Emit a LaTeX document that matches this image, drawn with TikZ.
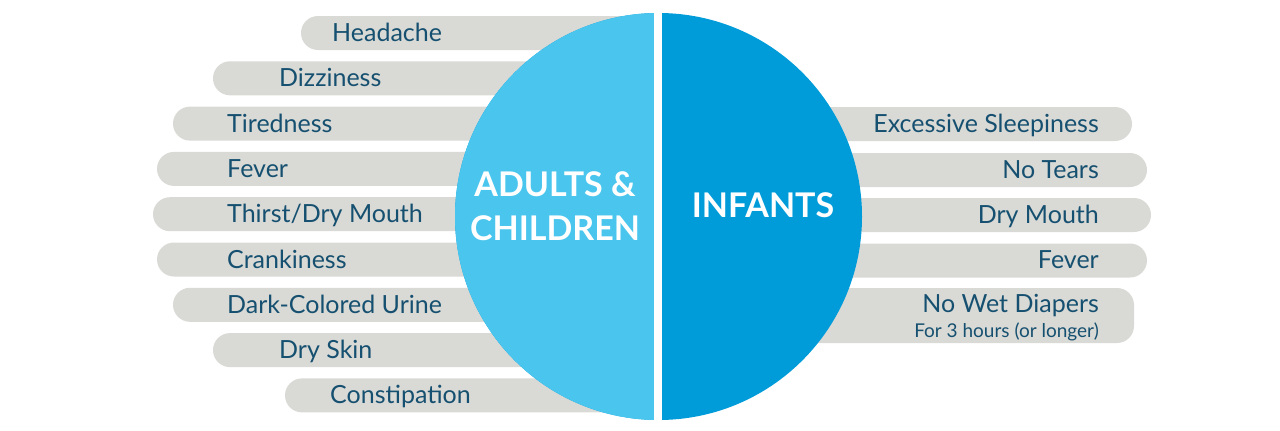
\documentclass[tikz,border=0pt]{standalone}
\usepackage{fontspec}
\setmainfont{Lato}
\definecolor{barGray}{RGB}{217,217,213}
\definecolor{txtBlue}{RGB}{22,80,112}
\definecolor{lightBlue}{RGB}{74,198,238}
\definecolor{darkBlue}{RGB}{0,156,218}

\begin{document}
\begin{tikzpicture}[x=1pt,y=-1pt,
    lab/.style={font=\fontsize{25}{25}\selectfont,text=txtBlue,inner sep=0pt},
    title/.style={font=\fontsize{34}{34}\selectfont\bfseries,text=white,inner sep=0pt,anchor=base}]
  \useasboundingbox (0,0) rectangle (1280,431);
  % left bars (adults & children)
  \foreach \xl/\xt/\lbl [count=\i] in {301/332/Headache, 213/279/Dizziness, 173/227/Tiredness,
      157/227/Fever, 153/227/{Thirst/Dry Mouth}, 157/227/Crankiness,
      173/227/Dark-Colored Urine, 213/279/Dry Skin, 285/330/Constipation}
  {
    \pgfmathsetmacro{\yc}{33+45.3*(\i-1)}
    \fill[barGray,rounded corners=17pt] (654,\yc-17) -- (\xl,\yc-17) -- (\xl,\yc+17) -- (654,\yc+17);
    \node[lab,anchor=base west] (adult\i) at (\xt,\yc+8.5) {\lbl};
  }
  % right bars (infants)
  \foreach \yc/\xr/\lbl [count=\i] in {124/1132/Excessive Sleepiness, 170/1147/No Tears,
      215/1151/Dry Mouth, 260.5/1147/Fever}
  {
    \fill[barGray,rounded corners=17pt] (662,\yc-17) -- (\xr,\yc-17) -- (\xr,\yc+17) -- (662,\yc+17);
    \node[lab,anchor=base east] (infant\i) at (1099,\yc+8) {\lbl};
  }
  \fill[barGray,rounded corners=17pt] (662,288) -- (1134,288) -- (1134,343) -- (662,343);
  \node[lab,anchor=base east] (infant5) at (1099,312.7) {No Wet Diapers};
  \node[lab,font=\fontsize{19}{19}\selectfont,anchor=base east] (infant5b) at (1099,337.7) {For 3 hours (or longer)};
  % the two halves
  \fill[darkBlue] (658.5,216.5) circle[radius=203.5];
  \begin{scope}
    \clip (0,0) rectangle (654,431);
    \fill[lightBlue] (658.5,216.5) circle[radius=203.5];
  \end{scope}
  \fill[white] (654,0) rectangle (662,431);
  \node[title] (adults) at (555,196) {ADULTS \&};
  \node[title] (children) at (555,240) {CHILDREN};
  \node[title] (infants) at (763,217) {INFANTS};
\end{tikzpicture}
\end{document}
